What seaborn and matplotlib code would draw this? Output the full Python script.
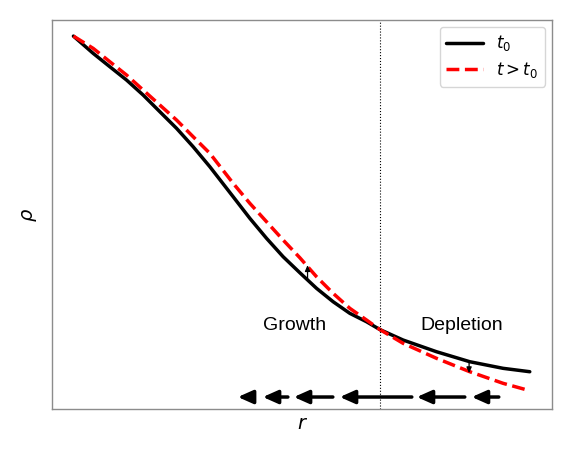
import numpy as np
import matplotlib
matplotlib.use("Agg")
import matplotlib.pyplot as plt
import seaborn as sns

# curve points (axes units ~ pixels from lower-left)
r_pts = [21, 40.8, 57.5, 74.2, 90.8, 107.5, 124.2, 140.8, 157.5, 180.8, 197.5, 214.2,
         230.8, 247.5, 264.2, 280.8, 297.5, 314.2, 327.5, 350.8, 384.2, 417.5, 450.8, 477.5]
rho_t0 = [373, 355.7, 342.3, 329, 314, 297.3, 280.7, 262.3, 242.3, 212.3, 190.7, 170.7,
          152.3, 136.3, 120.7, 107.3, 95.7, 87.3, 79.5, 69, 57.3, 47.3, 40.7, 37.3]
rho_t1 = [373, 360.7, 347.3, 334, 319, 304, 289, 272.3, 255.7, 225.7, 205.7, 187.3,
          169, 151.3, 132.3, 115.7, 100.7, 89, 79.5, 65.7, 50.7, 37.3, 25.7, 18.3]

r_split = 327.5
big_arrows = [(200.5, 185.5), (235.5, 210.5), (280.5, 241.5), (359.5, 287.5), (412.5, 364.5), (446.5, 419.5)]  # (tail, tip)
arrow_y = 12.0
small_arrows = [(255.2, 129.0, 144.0), (416.8, 47.3, 35.7)]  # (r, from, to)

sns.set_style("white")
plt.rcParams["font.family"] = ["Liberation Sans", "DejaVu Sans"]
plt.rcParams["mathtext.fontset"] = "dejavusans"
plt.rcParams["text.color"] = "black"
plt.rcParams["axes.labelcolor"] = "black"

fig = plt.figure(figsize=(5.7, 4.57), dpi=100)
ax = fig.add_axes([0.092, 0.105, 0.876, 0.851])

sns.lineplot(x=r_pts, y=rho_t0, sort=False, color="black", lw=2.5, ax=ax, label="$t_0$")
sns.lineplot(x=r_pts, y=rho_t1, sort=False, color="red", lw=2.5, ls="--", ax=ax, label="$t > t_0$")

ax.axvline(r_split, color="black", lw=0.8, ls=":")

for tail, tip in big_arrows:
    ax.annotate("", xy=(tip, arrow_y), xytext=(tail, arrow_y),
                arrowprops=dict(arrowstyle="-|>,head_length=0.9,head_width=0.4",
                                color="black", lw=2.5, shrinkA=0, shrinkB=0))
for r0, y0, y1 in small_arrows:
    ax.annotate("", xy=(r0, y1), xytext=(r0, y0),
                arrowprops=dict(arrowstyle="-|>,head_length=0.35,head_width=0.15",
                                color="black", lw=0.9, shrinkA=0, shrinkB=0))

ax.text(242.5, 84, "Growth", fontsize=14, ha="center", va="center", color="black")
ax.text(409.5, 84, "Depletion", fontsize=14, ha="center", va="center", color="black")

ax.set_xlim(0, 499.5)
ax.set_ylim(0, 389)
ax.set_xticks([])
ax.set_yticks([])
ax.set_xlabel("$r$", fontsize=14, labelpad=5)
ax.set_ylabel(r"$\rho$", fontsize=14, labelpad=10)
for s in ax.spines.values():
    s.set_color("0.55")
    s.set_linewidth(1.0)

leg = ax.legend(loc="upper right", fontsize=12, frameon=True, handlelength=2.2,
                borderaxespad=0.4, labelspacing=0.4)
for t in leg.get_texts():
    t.set_color("black")

fig.savefig("out.png", dpi=100)
